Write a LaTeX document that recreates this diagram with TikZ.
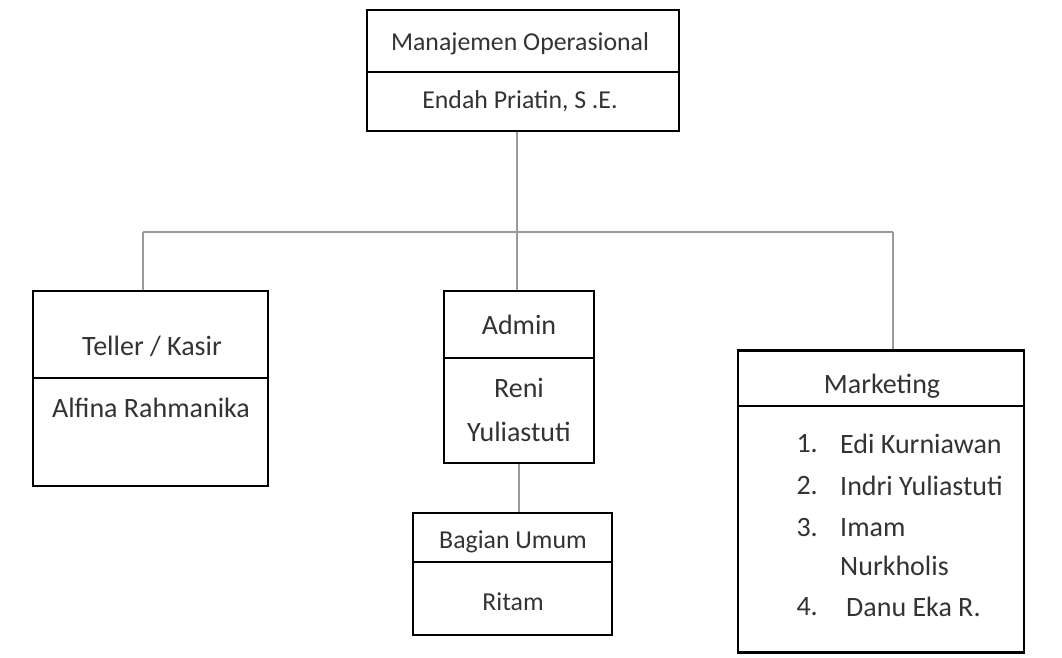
\documentclass[tikz,border=0pt]{standalone}
\usepackage{fontspec}
\setmainfont{Carlito}
\usetikzlibrary{calc}
\definecolor{txt}{HTML}{333333}
\definecolor{conn}{HTML}{9A9A9A}
\tikzset{
  box/.style={draw=black, line width=2.6pt, rectangle, inner sep=0pt},
  div/.style={draw=black, line width=1.3pt},
  conn/.style={draw=conn, line width=2.2pt},
  lbl/.style={text=txt, font=\fontsize{28}{32}\selectfont, inner sep=0pt},
  lbls/.style={text=txt, font=\fontsize{25.8}{30}\selectfont, inner sep=0pt},
}
\begin{document}
\begin{tikzpicture}[x=1pt,y=-1pt]
\useasboundingbox[fill=white] (0,0) rectangle (1062,657);
% boxes
\node[box, minimum width=312pt, minimum height=121pt] (top) at (523,70.5) {};
\node[box, minimum width=235pt, minimum height=195pt] (teller) at (150.5,388.5) {};
\node[box, minimum width=150pt, minimum height=172pt] (admin) at (519,377) {};
\node[box, minimum width=199pt, minimum height=122pt] (bag) at (512.5,574) {};
\node[box, minimum width=286pt, minimum height=302pt] (mkt) at (881,501.5) {};
% dividers
\draw[div] (top.west |- 0,72) -- (top.east |- 0,72);
\draw[div] (teller.west |- 0,378) -- (teller.east |- 0,378);
\draw[div] (admin.west |- 0,358) -- (admin.east |- 0,358);
\draw[div] (bag.west |- 0,562) -- (bag.east |- 0,562);
\draw[div] (mkt.west |- 0,406) -- (mkt.east |- 0,406);
% connectors
\coordinate (j) at (517,232);
\coordinate (hl) at (143,232);
\coordinate (hr) at (893,232);
\draw[conn] (top.south -| j) -- (j);
\draw[conn] (hl) -- (hr);
\draw[conn] (hl) -- (hl |- teller.north);
\draw[conn] (j) -- (j |- admin.north);
\draw[conn] (hr) -- (hr |- mkt.north);
\draw[conn] (admin.south) -- (admin.south |- bag.north);
% texts
\node[lbls] (t1) at (520,44) {Manajemen Operasional};
\node[lbls] (t2) at (520,101) {Endah Priatin, S .E.};
\node[lbl] (t3) at (152,346) {Teller / Kasir};
\node[lbl] (t4) at (151,408) {Alfina Rahmanika};
\node[lbl] (t5) at (519,325) {Admin};
\node[lbl] (t6) at (519,388) {Reni};
\node[lbl] (t7) at (519,432) {Yuliastuti};
\node[lbls] (t8) at (513,542) {Bagian Umum};
\node[lbls] (t9) at (513,602) {Ritam};
\node[lbl] (t10) at (882,386) {Marketing};
\node[lbl, anchor=east] (n1) at (818,444) {1.};
\node[lbl, anchor=east] (n2) at (818,486) {2.};
\node[lbl, anchor=east] (n3) at (818,528) {3.};
\node[lbl, anchor=east] (n4) at (818,607) {4.};
\node[lbl, anchor=west] (m1) at (840,444) {Edi Kurniawan};
\node[lbl, anchor=west] (m2) at (840,486) {Indri Yuliastuti};
\node[lbl, anchor=west] (m3) at (840,528) {Imam};
\node[lbl, anchor=west] (m3b) at (840,566) {Nurkholis};
\node[lbl, anchor=west] (m4) at (846,607) {Danu Eka R.};
\end{tikzpicture}
\end{document}
